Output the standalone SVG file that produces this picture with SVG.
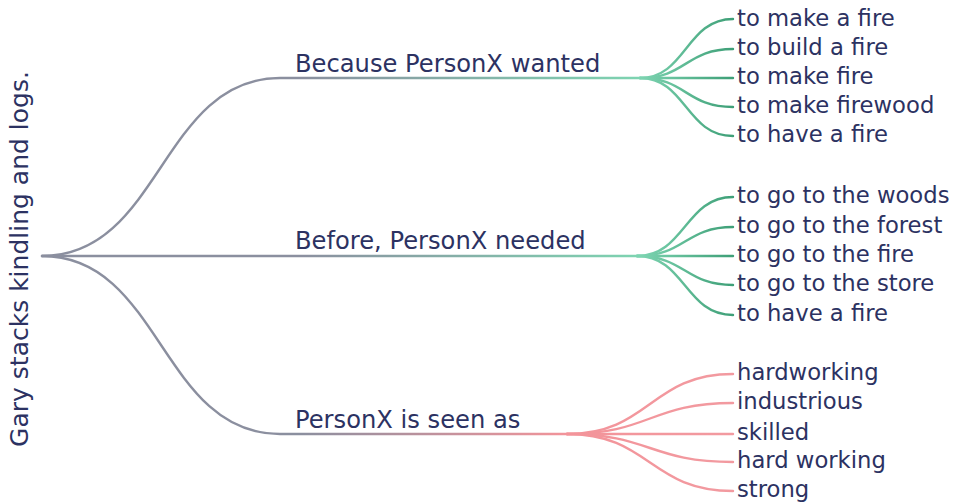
<svg xmlns="http://www.w3.org/2000/svg" width="956" height="504" viewBox="0 0 956 504">
<style>
text{font-family:"DejaVu Sans","Liberation Sans",sans-serif;fill:#2c3262}
.root{font-size:25px}
.br{font-size:24.2px}
.leaf{font-size:22.7px}
.edge{fill:none;stroke-width:2.4;stroke-linecap:round}
</style>
<defs>
<linearGradient id="gGreen1" gradientUnits="userSpaceOnUse" x1="300" y1="0" x2="640" y2="0">
<stop offset="0" stop-color="#8b8f9f"/><stop offset="1" stop-color="#7dd4b1"/>
</linearGradient>
<linearGradient id="gPink" gradientUnits="userSpaceOnUse" x1="300" y1="0" x2="567" y2="0">
<stop offset="0" stop-color="#8b8f9f"/><stop offset="1" stop-color="#f3949a"/>
</linearGradient>
<linearGradient id="gLeafG" gradientUnits="userSpaceOnUse" x1="640" y1="0" x2="733" y2="0">
<stop offset="0" stop-color="#7dd4b1"/><stop offset="1" stop-color="#3e9f77"/>
</linearGradient>
<linearGradient id="gLeafP" gradientUnits="userSpaceOnUse" x1="567" y1="0" x2="733" y2="0">
<stop offset="0" stop-color="#f3949a"/><stop offset="1" stop-color="#f29aa0"/>
</linearGradient>
</defs>
<rect width="956" height="504" fill="#ffffff"/>
<g id="connectors">
<path class="edge" stroke="url(#gGreen1)" d="M42,256 C161,256 161,78 280,78 L640,78"/>
<path class="edge" stroke="url(#gGreen1)" d="M42,256 L640,256"/>
<path class="edge" stroke="url(#gPink)" d="M42,256 C161,256 161,434 280,434 L567,434"/>
<g stroke="url(#gLeafG)" class="edge">
<path class="edge" d="M640,78 C686,78 686,19 733,19"/>
<path class="edge" d="M640,78 C686,78 686,49 733,49"/>
<path class="edge" d="M640,78 L733,78"/>
<path class="edge" d="M640,78 C686,78 686,107 733,107"/>
<path class="edge" d="M640,78 C686,78 686,136 733,136"/>
<path class="edge" d="M637,256 C685,256 685,197 733,197"/>
<path class="edge" d="M637,256 C685,256 685,227 733,227"/>
<path class="edge" d="M637,256 L733,256"/>
<path class="edge" d="M637,256 C685,256 685,285 733,285"/>
<path class="edge" d="M637,256 C685,256 685,315 733,315"/>
</g>
<g stroke="url(#gLeafP)" class="edge">
<path class="edge" d="M567,434 C650,434 650,374 733,374"/>
<path class="edge" d="M567,434 C650,434 650,403 733,403"/>
<path class="edge" d="M567,434 L733,434"/>
<path class="edge" d="M567,434 C650,434 650,462 733,462"/>
<path class="edge" d="M567,434 C650,434 650,491 733,491"/>
</g>
</g>
<g id="root"><text class="root" transform="translate(28,259) rotate(-90)" text-anchor="middle">Gary stacks kindling and logs.</text></g>
<g id="b1"><text class="br" x="295" y="72">Because PersonX wanted</text></g>
<g id="b2"><text class="br" x="295" y="249">Before, PersonX needed</text></g>
<g id="b3"><text class="br" x="295" y="428">PersonX is seen as</text></g>
<g id="l1"><text class="leaf" x="737" y="26">to make a fire</text></g>
<g id="l2"><text class="leaf" x="737" y="55">to build a fire</text></g>
<g id="l3"><text class="leaf" x="737" y="84">to make fire</text></g>
<g id="l4"><text class="leaf" x="737" y="113">to make firewood</text></g>
<g id="l5"><text class="leaf" x="737" y="142">to have a fire</text></g>
<g id="l6"><text class="leaf" x="737" y="203">to go to the woods</text></g>
<g id="l7"><text class="leaf" x="737" y="233">to go to the forest</text></g>
<g id="l8"><text class="leaf" x="737" y="262">to go to the fire</text></g>
<g id="l9"><text class="leaf" x="737" y="291">to go to the store</text></g>
<g id="l10"><text class="leaf" x="737" y="321">to have a fire</text></g>
<g id="l11"><text class="leaf" x="737" y="380">hardworking</text></g>
<g id="l12"><text class="leaf" x="737" y="409">industrious</text></g>
<g id="l13"><text class="leaf" x="737" y="440">skilled</text></g>
<g id="l14"><text class="leaf" x="737" y="468">hard working</text></g>
<g id="l15"><text class="leaf" x="737" y="497">strong</text></g>
</svg>
